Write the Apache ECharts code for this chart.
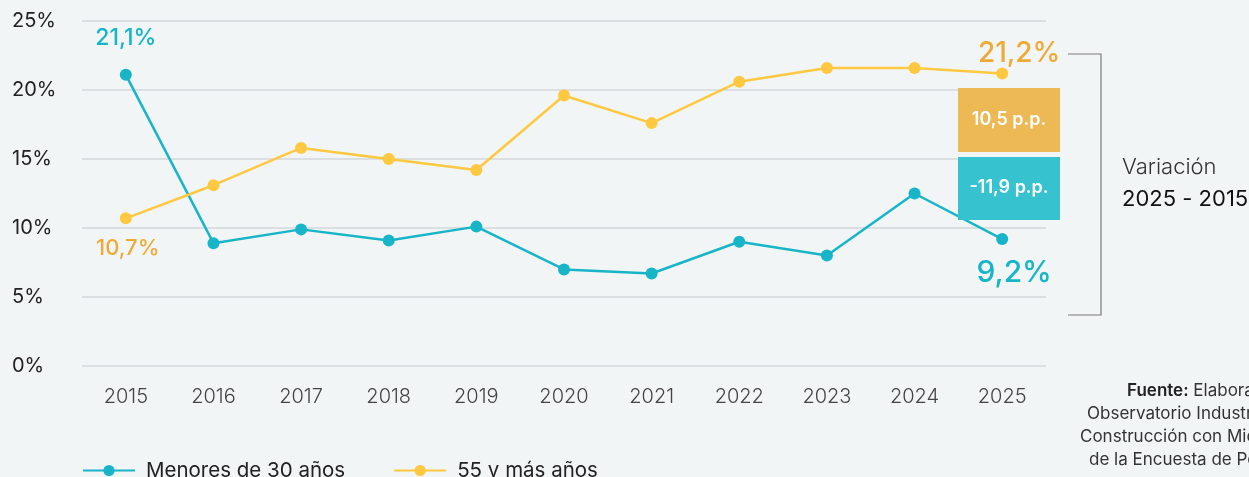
<!DOCTYPE html>
<html>
<head>
<meta charset="utf-8">
<script src="https://cdn.jsdelivr.net/npm/echarts@6/dist/echarts.min.js"></script>
<style>
  html, body { margin: 0; padding: 0; background: #f2f5f6; }
  #main { width: 1249px; height: 477px; }
</style>
</head>
<body>
<div id="main"></div>
<script>
var years = ['2015', '2016', '2017', '2018', '2019', '2020', '2021', '2022', '2023', '2024', '2025'];
var menores30 = [21.1, 8.9, 9.9, 9.1, 10.1, 7.0, 6.7, 9.0, 8.0, 12.5, 9.2];
var mayores55 = [10.7, 13.1, 15.8, 15.0, 14.2, 19.6, 17.6, 20.6, 21.6, 21.6, 21.2];
var yTicks = [0, 5, 10, 15, 20, 25];

var teal = '#17b5c7';
var yellow = '#fec840';
var orangeText = '#eeaa36';
var font = 'Inter, "Noto Sans", sans-serif';

function fmt(v) {
    return v.toFixed(1).replace('.', ',');
}

var chart = echarts.init(document.getElementById('main'));

var last = years.length - 1;
var var55 = mayores55[last] - mayores55[0];
var var30 = menores30[last] - menores30[0];

// etiquetas solo en el primer y ultimo punto
function buildData(values, firstLabel, lastLabel) {
    return values.map(function (v, i) {
        if (i === 0) return { value: v, label: firstLabel };
        if (i === last) return { value: v, label: lastLabel };
        return v;
    });
}

var data30 = buildData(menores30,
    { show: true, position: 'top', distance: 19, offset: [0, 0], fontSize: 23, color: teal, fontWeight: 500 },
    { show: true, position: 'bottom', distance: 13, offset: [12, 0], fontSize: 30, color: teal, fontWeight: 500 });

var data55 = buildData(mayores55,
    { show: true, position: 'bottom', distance: 13, offset: [2, 0], fontSize: 22, color: orangeText, fontWeight: 500 },
    { show: true, position: 'top', distance: 0, offset: [17, 0], fontSize: 28, color: orangeText, fontWeight: 500 });

var option = {
    backgroundColor: '#f2f5f6',
    textStyle: { fontFamily: font },
    animation: false,
    grid: { left: 82, right: 203, top: 21, bottom: 111 },
    legend: {
        left: 77,
        top: 455,
        itemWidth: 52,
        itemHeight: 14,
        itemGap: 48,
        textStyle: { fontSize: 20.5, color: '#222', fontFamily: font, padding: [0, 0, 0, 6] },
        data: ['Menores de 30 años', '55 y más años']
    },
    xAxis: {
        type: 'category',
        data: years,
        boundaryGap: true,
        axisLine: { show: false },
        axisTick: { show: false },
        axisLabel: { margin: 21, fontSize: 20, color: '#444', fontWeight: 300, fontFamily: font }
    },
    yAxis: {
        type: 'value',
        min: yTicks[0],
        max: yTicks[yTicks.length - 1],
        interval: 5,
        axisLine: { show: false },
        axisTick: { show: false },
        splitLine: { lineStyle: { color: '#dcdfe1', width: 2 } },
        axisLabel: {
            align: 'left',
            margin: 70,
            fontSize: 20,
            color: '#222',
            fontFamily: font,
            formatter: function (v) { return v + '%'; }
        }
    },
    series: [
        {
            name: 'Menores de 30 años',
            type: 'line',
            data: data30,
            symbol: 'circle',
            symbolSize: 12,
            color: teal,
            lineStyle: { width: 2.5, color: teal },
            itemStyle: { color: teal },
            label: { show: false, fontFamily: font, formatter: function (p) { return fmt(p.value) + '%'; } },
            z: 3
        },
        {
            name: '55 y más años',
            type: 'line',
            data: data55,
            symbol: 'circle',
            symbolSize: 12,
            color: yellow,
            lineStyle: { width: 2.5, color: yellow },
            itemStyle: { color: yellow },
            label: { show: false, fontFamily: font, formatter: function (p) { return fmt(p.value) + '%'; } },
            z: 3
        }
    ],
    graphic: [
        { type: 'rect', shape: { x: 958, y: 88, width: 102, height: 64 }, style: { fill: '#edb955' }, z: 10 },
        { type: 'text', x: 1009, y: 120, style: { text: fmt(var55) + ' p.p.', fill: '#fff', font: '600 18px ' + font, textAlign: 'center', textVerticalAlign: 'middle' }, z: 11 },
        { type: 'rect', shape: { x: 958, y: 157, width: 102, height: 63 }, style: { fill: '#36c2ce' }, z: 10 },
        { type: 'text', x: 1009, y: 188, style: { text: fmt(var30) + ' p.p.', fill: '#fff', font: '600 18px ' + font, textAlign: 'center', textVerticalAlign: 'middle' }, z: 11 },
        { type: 'polyline', shape: { points: [[1068, 54], [1101, 54], [1101, 315], [1068, 315]] }, style: { stroke: '#7a7a7a', lineWidth: 1.2, fill: null }, z: 10 },
        { type: 'text', x: 1122, y: 167, style: { text: 'Variación', fill: '#333', font: '300 22px ' + font, textVerticalAlign: 'middle' } },
        { type: 'text', x: 1122, y: 199, style: { text: '2025 - 2015', fill: '#111', font: '400 22px ' + font, textVerticalAlign: 'middle' } },
        { type: 'text', x: 1127, y: 391, style: { rich: { b: { font: '600 17px ' + font, fill: '#222' }, n: { font: '400 17px ' + font, fill: '#333' } }, text: '{b|Fuente:}{n| Elaboración propia}', textVerticalAlign: 'middle' } },
        { type: 'text', x: 1087, y: 414, style: { text: 'Observatorio Industrial de la', fill: '#333', font: '400 17px ' + font, textVerticalAlign: 'middle' } },
        { type: 'text', x: 1080, y: 437, style: { text: 'Construcción con Microdatos', fill: '#333', font: '400 17px ' + font, textVerticalAlign: 'middle' } },
        { type: 'text', x: 1089, y: 460, style: { text: 'de la Encuesta de Población Activa', fill: '#333', font: '400 17px ' + font, textVerticalAlign: 'middle' } }
    ]
};

chart.setOption(option);
</script>
</body>
</html>
